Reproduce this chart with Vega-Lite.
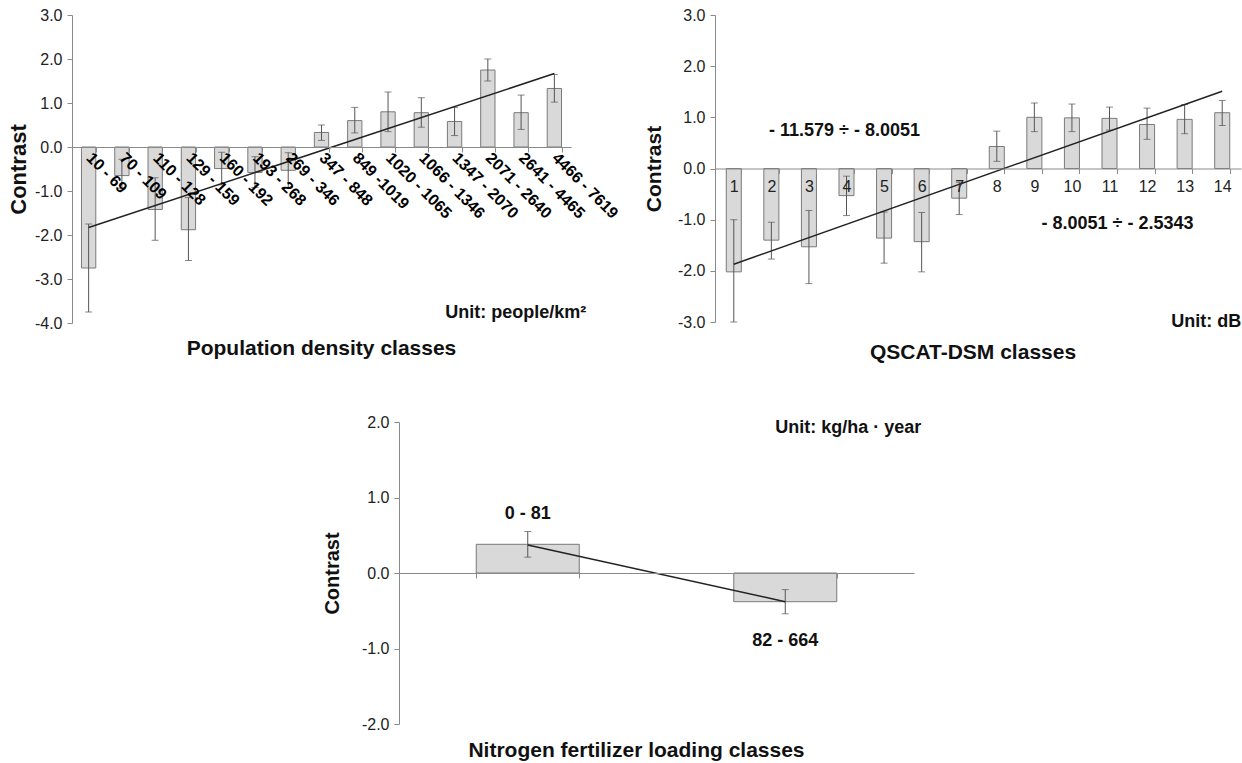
{
  "$schema": "https://vega.github.io/schema/vega-lite/v6.json",
  "background": "white",
  "padding": {"left": 7, "top": 7, "right": 0, "bottom": 0},
  "spacing": 51,
  "config": {
    "view": {"stroke": null},
    "font": "Liberation Sans",
    "axis": {"domainColor": "#8a8a8a", "tickColor": "#8a8a8a", "labelColor": "#222222", "labelFont": "Liberation Sans", "labelFontSize": 16, "titleFont": "Liberation Sans", "titleFontSize": 22, "titleFontWeight": "bold", "titleColor": "#111111", "grid": false, "tickSize": 5, "labelPadding": 5},
    "title": {"font": "Liberation Sans", "fontSize": 21, "fontWeight": "bold", "color": "#111111"}
  },
  "datasets": {
    "pop": [
      {"cat": "10 - 69", "v": -2.75, "lo": -3.75, "hi": -1.75},
      {"cat": "70 - 109", "v": -0.65, "lo": -0.95, "hi": -0.28},
      {"cat": "110 - 128", "v": -1.42, "lo": -2.12, "hi": -0.7},
      {"cat": "129 - 159", "v": -1.88, "lo": -2.58, "hi": -1.15},
      {"cat": "160 - 192", "v": -0.49, "lo": -0.86, "hi": -0.12},
      {"cat": "193 - 268", "v": -0.58, "lo": -0.92, "hi": -0.22},
      {"cat": "269 - 346", "v": -0.53, "lo": -0.92, "hi": -0.13},
      {"cat": "347 - 848", "v": 0.33, "lo": 0.15, "hi": 0.5},
      {"cat": "849 -1019", "v": 0.6, "lo": 0.32, "hi": 0.9},
      {"cat": "1020 - 1065", "v": 0.8, "lo": 0.35, "hi": 1.25},
      {"cat": "1066 - 1346", "v": 0.78, "lo": 0.45, "hi": 1.12},
      {"cat": "1347 - 2070", "v": 0.58, "lo": 0.26, "hi": 0.9},
      {"cat": "2071 - 2640", "v": 1.75, "lo": 1.5, "hi": 2.0},
      {"cat": "2641 - 4465", "v": 0.78, "lo": 0.4, "hi": 1.18},
      {"cat": "4466 - 7619", "v": 1.33, "lo": 1.02, "hi": 1.65}
    ],
    "popTrend": [
      {"cat": "10 - 69", "v": -1.83},
      {"cat": "4466 - 7619", "v": 1.67}
    ],
    "popNote": [
      {"cat": "4466 - 7619", "v": -3.78, "label": "Unit: people/km²"}
    ],
    "qs": [
      {"cat": "1", "v": -2.02, "lo": -3.0, "hi": -1.0},
      {"cat": "2", "v": -1.4, "lo": -1.77, "hi": -1.05},
      {"cat": "3", "v": -1.53, "lo": -2.25, "hi": -0.82},
      {"cat": "4", "v": -0.53, "lo": -0.92, "hi": -0.15},
      {"cat": "5", "v": -1.36, "lo": -1.85, "hi": -0.85},
      {"cat": "6", "v": -1.43, "lo": -2.02, "hi": -0.86},
      {"cat": "7", "v": -0.58, "lo": -0.9, "hi": -0.27},
      {"cat": "8", "v": 0.43, "lo": 0.14, "hi": 0.73},
      {"cat": "9", "v": 1.0, "lo": 0.72, "hi": 1.28},
      {"cat": "10", "v": 0.99, "lo": 0.72, "hi": 1.26},
      {"cat": "11", "v": 0.98, "lo": 0.75, "hi": 1.2},
      {"cat": "12", "v": 0.86, "lo": 0.57, "hi": 1.18},
      {"cat": "13", "v": 0.96, "lo": 0.68, "hi": 1.25},
      {"cat": "14", "v": 1.09, "lo": 0.84, "hi": 1.33}
    ],
    "qsTrend": [
      {"cat": "1", "v": -1.87},
      {"cat": "14", "v": 1.51}
    ],
    "qsNoteA": [
      {"cat": "4", "v": 0.74, "label": "- 11.579 ÷ - 8.0051"}
    ],
    "qsNoteB": [
      {"cat": "11", "v": -1.09, "label": "- 8.0051 ÷ - 2.5343"}
    ],
    "qsUnit": [
      {"cat": "14", "v": -3.0, "label": "Unit: dB"}
    ],
    "nit": [
      {"cat": "0 - 81", "v": 0.38, "lo": 0.21, "hi": 0.55},
      {"cat": "82 - 664", "v": -0.38, "lo": -0.54, "hi": -0.22}
    ],
    "nitTrend": [
      {"cat": "0 - 81", "v": 0.37},
      {"cat": "82 - 664", "v": -0.38}
    ],
    "nitNote": [
      {"cat": "0 - 81", "v": 0.78, "label": "0 - 81"},
      {"cat": "82 - 664", "v": -0.9, "label": "82 - 664"}
    ],
    "nitUnit": [
      {"cat": "82 - 664", "v": 1.92, "label": "Unit: kg/ha · year"}
    ]
  },
  "vconcat": [
    {
      "spacing": 22,
      "hconcat": [
        {
          "width": 499,
          "height": 308,
          "title": {"text": "Population density classes", "orient": "bottom", "offset": 7, "anchor": "middle"},
          "encoding": {
            "x": {"field": "cat", "type": "nominal", "sort": null,
              "scale": {"domain": ["10 - 69", "70 - 109", "110 - 128", "129 - 159", "160 - 192", "193 - 268", "269 - 346", "347 - 848", "849 -1019", "1020 - 1065", "1066 - 1346", "1347 - 2070", "2071 - 2640", "2641 - 4465", "4466 - 7619"], "paddingInner": 0.57, "paddingOuter": 0.285},
              "axis": {"title": null, "orient": "bottom", "offset": -176, "labelAngle": 45, "labelAlign": "left", "labelBaseline": "middle", "labelFontWeight": "bold", "labelFontSize": 16, "labelColor": "#000000", "labelPadding": 3, "tickBand": "extent", "tickSize": 5, "labelOverlap": false, "labelBound": false, "labelLimit": 0, "zindex": 1}}
          },
          "layer": [
            {
              "data": {"name": "pop"},
              "mark": {"type": "bar", "fill": "#d9d9d9", "stroke": "#7a7a7a", "strokeWidth": 1},
              "encoding": {
                "y": {"field": "v", "type": "quantitative", "title": "Contrast",
                  "scale": {"domain": [-4, 3], "nice": false, "zero": false},
                  "axis": {"values": [-4, -3, -2, -1, 0, 1, 2, 3], "labelExpr": "replace(format(datum.value, '.1f'), '\u2212', '-')", "titlePadding": 4, "titleFontSize": 22}}
              }
            },
            {
              "data": {"name": "pop"},
              "mark": {"type": "rule", "color": "#555555", "strokeWidth": 1},
              "encoding": {
                "y": {"field": "lo", "type": "quantitative", "title": "Contrast"},
                "y2": {"field": "hi"}
              }
            },
            {
              "data": {"name": "pop"},
              "mark": {"type": "tick", "color": "#555555", "size": 7, "thickness": 1},
              "encoding": {"y": {"field": "lo", "type": "quantitative", "title": "Contrast"}}
            },
            {
              "data": {"name": "pop"},
              "mark": {"type": "tick", "color": "#555555", "size": 7, "thickness": 1},
              "encoding": {"y": {"field": "hi", "type": "quantitative", "title": "Contrast"}}
            },
            {
              "data": {"name": "popTrend"},
              "mark": {"type": "line", "color": "#222222", "strokeWidth": 1.5},
              "encoding": {"y": {"field": "v", "type": "quantitative", "title": "Contrast"}}
            },
            {
              "data": {"name": "popNote"},
              "mark": {"type": "text", "fontSize": 18, "fontWeight": "bold", "color": "#111111", "align": "right", "baseline": "middle", "dx": 32},
              "encoding": {"y": {"field": "v", "type": "quantitative", "title": "Contrast"}, "text": {"field": "label"}}
            }
          ]
        },
        {
          "width": 526,
          "height": 307,
          "title": {"text": "QSCAT-DSM classes", "orient": "bottom", "offset": 11, "dx": -5, "anchor": "middle"},
          "encoding": {
            "x": {"field": "cat", "type": "nominal", "sort": null,
              "scale": {"domain": ["1", "2", "3", "4", "5", "6", "7", "8", "9", "10", "11", "12", "13", "14"], "paddingInner": 0.6, "paddingOuter": 0.3},
              "axis": {"title": null, "orient": "bottom", "offset": -153.5, "labelAngle": 0, "labelFontSize": 16, "labelColor": "#222222", "labelPadding": 5, "tickBand": "extent", "tickSize": 5, "labelOverlap": false, "labelBound": false, "zindex": 1}}
          },
          "layer": [
            {
              "data": {"name": "qs"},
              "mark": {"type": "bar", "fill": "#d9d9d9", "stroke": "#7a7a7a", "strokeWidth": 1},
              "encoding": {
                "y": {"field": "v", "type": "quantitative", "title": "Contrast",
                  "scale": {"domain": [-3, 3], "nice": false, "zero": false},
                  "axis": {"values": [-3, -2, -1, 0, 1, 2, 3], "labelExpr": "replace(format(datum.value, '.1f'), '\u2212', '-')", "titlePadding": 13, "titleFontSize": 21}}
              }
            },
            {
              "data": {"name": "qs"},
              "mark": {"type": "rule", "color": "#555555", "strokeWidth": 1},
              "encoding": {
                "y": {"field": "lo", "type": "quantitative", "title": "Contrast"},
                "y2": {"field": "hi"}
              }
            },
            {
              "data": {"name": "qs"},
              "mark": {"type": "tick", "color": "#555555", "size": 7, "thickness": 1},
              "encoding": {"y": {"field": "lo", "type": "quantitative", "title": "Contrast"}}
            },
            {
              "data": {"name": "qs"},
              "mark": {"type": "tick", "color": "#555555", "size": 7, "thickness": 1},
              "encoding": {"y": {"field": "hi", "type": "quantitative", "title": "Contrast"}}
            },
            {
              "data": {"name": "qsTrend"},
              "mark": {"type": "line", "color": "#222222", "strokeWidth": 1.5},
              "encoding": {"y": {"field": "v", "type": "quantitative", "title": "Contrast"}}
            },
            {
              "data": {"name": "qsNoteA"},
              "mark": {"type": "text", "fontSize": 18, "fontWeight": "bold", "color": "#111111", "align": "center", "baseline": "middle", "dx": -2},
              "encoding": {"y": {"field": "v", "type": "quantitative", "title": "Contrast"}, "text": {"field": "label"}}
            },
            {
              "data": {"name": "qsNoteB"},
              "mark": {"type": "text", "fontSize": 18, "fontWeight": "bold", "color": "#111111", "align": "center", "baseline": "middle", "dx": 8},
              "encoding": {"y": {"field": "v", "type": "quantitative", "title": "Contrast"}, "text": {"field": "label"}}
            },
            {
              "data": {"name": "qsUnit"},
              "mark": {"type": "text", "fontSize": 18, "fontWeight": "bold", "color": "#111111", "align": "right", "baseline": "middle", "dx": 19},
              "encoding": {"y": {"field": "v", "type": "quantitative", "title": "Contrast"}, "text": {"field": "label"}}
            }
          ]
        }
      ]
    },
    {
      "spacing": 15,
      "hconcat": [
        {
          "width": 235,
          "height": 10,
          "data": {"values": [{"a": 1}]},
          "mark": {"type": "point", "opacity": 0},
          "encoding": {}
        },
        {
          "width": 515,
          "height": 302,
          "title": {"text": "Nitrogen fertilizer loading classes", "orient": "bottom", "offset": 8, "dx": -20, "anchor": "middle"},
          "encoding": {
            "x": {"field": "cat", "type": "nominal", "sort": null,
              "scale": {"domain": ["0 - 81", "82 - 664"], "paddingInner": 0.6, "paddingOuter": 0.3},
              "axis": {"title": null, "orient": "bottom", "offset": -151, "labels": false, "tickBand": "extent", "tickSize": 5, "zindex": 1}}
          },
          "layer": [
            {
              "data": {"name": "nit"},
              "mark": {"type": "bar", "fill": "#d9d9d9", "stroke": "#7a7a7a", "strokeWidth": 1},
              "encoding": {
                "y": {"field": "v", "type": "quantitative", "title": "Contrast",
                  "scale": {"domain": [-2, 2], "nice": false, "zero": false},
                  "axis": {"values": [-2, -1, 0, 1, 2], "labelExpr": "replace(format(datum.value, '.1f'), '\u2212', '-')", "titlePadding": 19, "titleFontSize": 20}}
              }
            },
            {
              "data": {"name": "nit"},
              "mark": {"type": "rule", "color": "#555555", "strokeWidth": 1},
              "encoding": {
                "y": {"field": "lo", "type": "quantitative", "title": "Contrast"},
                "y2": {"field": "hi"}
              }
            },
            {
              "data": {"name": "nit"},
              "mark": {"type": "tick", "color": "#555555", "size": 7, "thickness": 1},
              "encoding": {"y": {"field": "lo", "type": "quantitative", "title": "Contrast"}}
            },
            {
              "data": {"name": "nit"},
              "mark": {"type": "tick", "color": "#555555", "size": 7, "thickness": 1},
              "encoding": {"y": {"field": "hi", "type": "quantitative", "title": "Contrast"}}
            },
            {
              "data": {"name": "nitTrend"},
              "mark": {"type": "line", "color": "#222222", "strokeWidth": 1.5},
              "encoding": {"y": {"field": "v", "type": "quantitative", "title": "Contrast"}}
            },
            {
              "data": {"name": "nitNote"},
              "mark": {"type": "text", "fontSize": 18, "fontWeight": "bold", "color": "#111111", "align": "center", "baseline": "middle"},
              "encoding": {"y": {"field": "v", "type": "quantitative", "title": "Contrast"}, "text": {"field": "label"}}
            },
            {
              "data": {"name": "nitUnit"},
              "mark": {"type": "text", "fontSize": 18, "fontWeight": "bold", "color": "#111111", "align": "right", "baseline": "middle", "dx": 136},
              "encoding": {"y": {"field": "v", "type": "quantitative", "title": "Contrast"}, "text": {"field": "label"}}
            }
          ]
        }
      ]
    }
  ]
}
